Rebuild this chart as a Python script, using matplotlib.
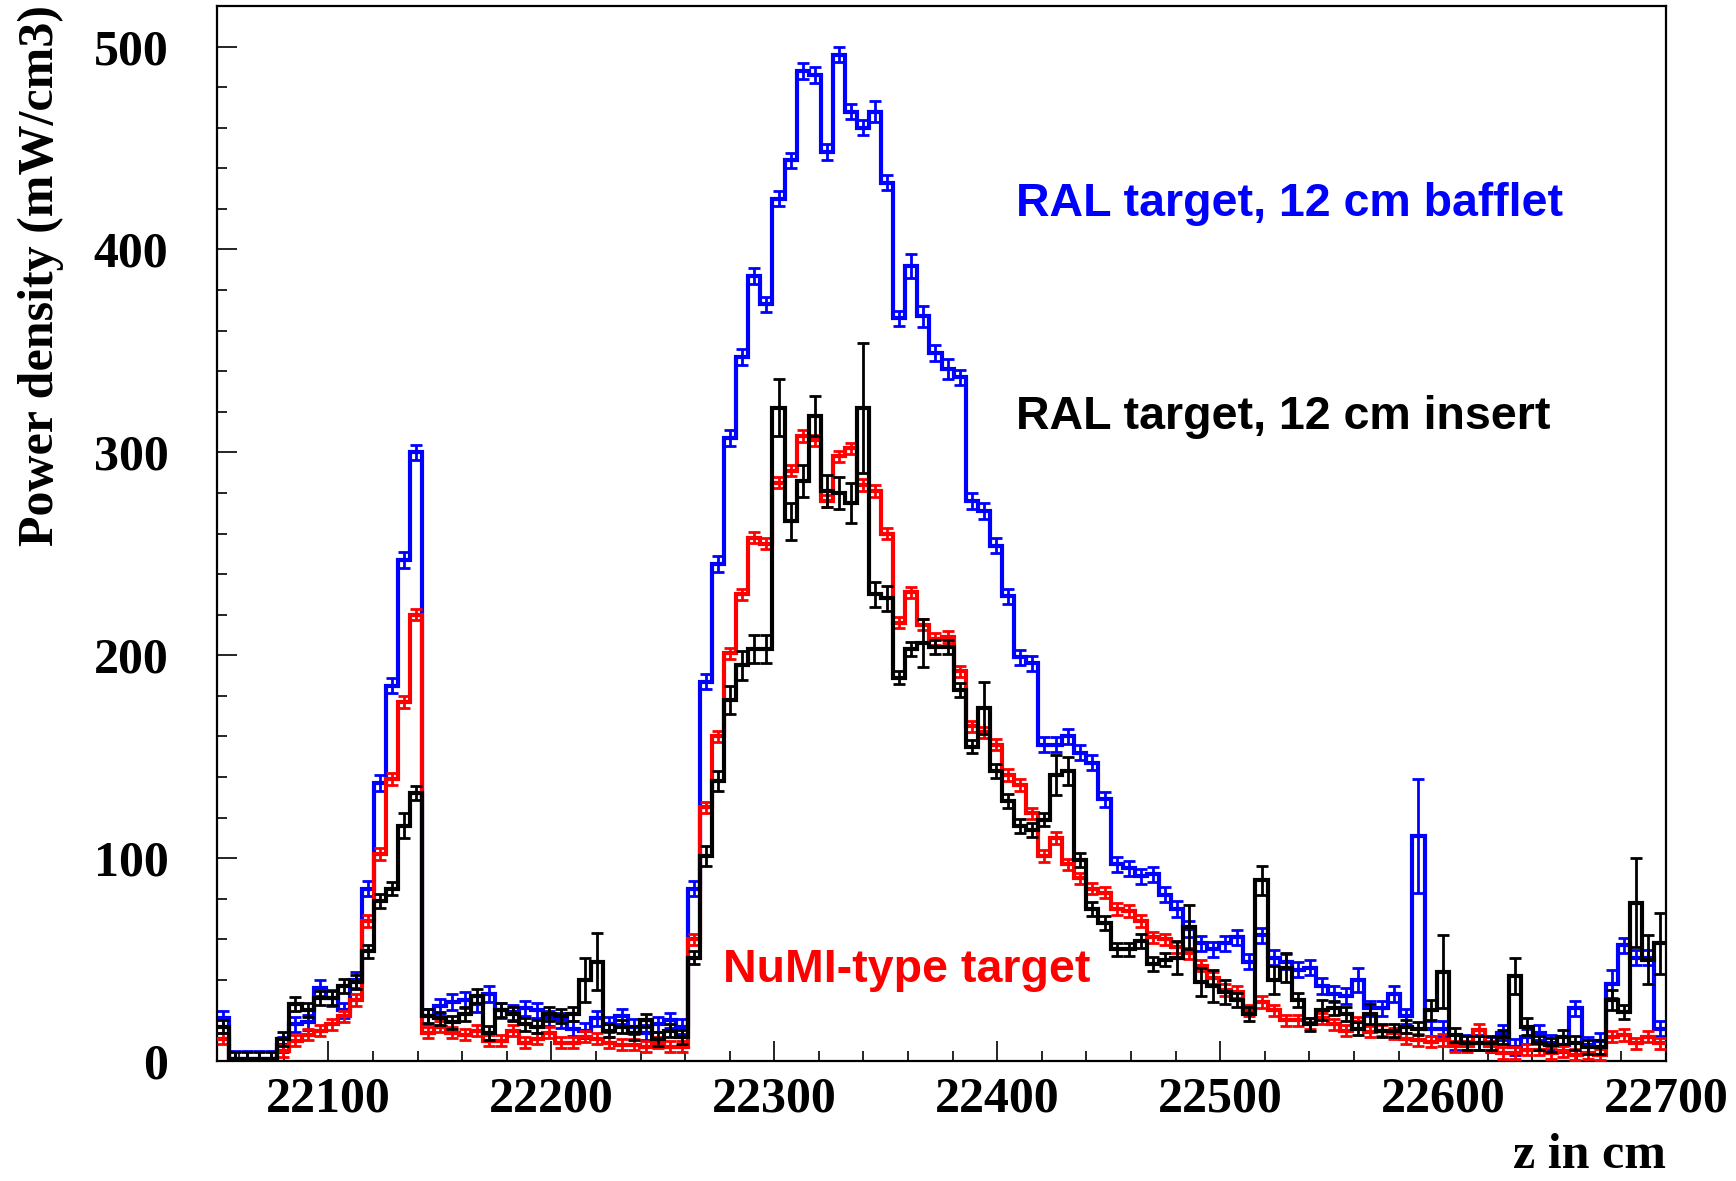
import numpy as np
import matplotlib
matplotlib.use("Agg")
import matplotlib.pyplot as plt
from matplotlib.ticker import MultipleLocator

# Histogram binning along the beam line (cm)
Z_MIN, Z_MAX, N_BINS = 22050.0, 22700.0, 120

# Power density per bin (mW/cm3): RAL target with 12 cm bafflet
bafflet = (
    [21, 1, 1, 1, 1]
    + [8, 18, 19, 36, 31, 25, 40]
    + [85, 137, 185, 247, 300]
    + [22, 27, 29, 30, 28, 33, 25, 24, 26, 25, 21, 20, 16]
    + [15, 21, 18, 22, 17, 14, 18, 20, 17]
    + [85, 187, 245, 307, 347, 387, 373, 425, 444, 488, 486, 448,
       496, 468, 460, 468, 433, 366, 392, 367, 349, 341, 337, 276]
    + [271, 254, 229, 199, 196]
    + [156, 156, 160, 152, 147, 129, 97, 95, 91, 92, 82, 75, 65, 58,
       55, 58, 61, 49, 62, 51, 49]
    + [45, 46, 37, 33, 32, 40, 26, 26, 33, 22, 111]
    + [16, 16, 9, 9, 9, 8, 14, 7, 12, 14, 9, 8, 26, 8, 10, 38, 57, 51, 51, 16]
)

# NuMI-type target
numi = (
    [11, 0, 0, 0, 0]
    + [5, 10, 13, 15, 18, 22, 30]
    + [69, 102, 139, 177, 220]
    + [14, 17, 14, 13, 15, 10, 10, 15, 9, 11, 14, 9, 9, 12, 11, 9, 8, 8,
       7, 9, 7, 7]
    + [60, 125, 160, 201, 230, 258, 255, 285, 291, 308, 306, 276,
       298, 302, 284, 281, 260, 216, 231, 215, 208, 209, 192, 165]
    + [162, 156, 141, 136, 122, 101, 110, 97, 90, 85, 83, 75, 74, 69,
       61, 60, 56, 53, 47, 41, 35, 34, 25, 29, 25, 20]
    + [20, 18.5, 21, 18, 15, 19, 14.5, 15, 13.6, 11, 10.4, 9.6, 10.4,
       7.2, 7.2, 15.3, 7.2, 4, 4, 5.6, 5.6, 4, 4.8, 3.2, 4, 3.2, 12,
       12.8, 8.7, 12, 8.7]
)

# RAL target with 12 cm insert
insert = (
    [17, 1, 1, 1, 1]
    + [11, 28, 25, 31, 31, 37, 39, 54, 79, 85, 116, 132]
    + [22, 21, 19, 23, 32, 14, 25, 23, 18, 17, 23, 22, 23]
    + [40, 49]
    + [15, 17, 14, 20, 11, 15, 12]
    + [51, 101, 138, 178, 195, 203, 203, 322, 266, 286, 318, 281,
       280, 275, 322, 230, 228, 189, 203, 206, 204, 204, 183, 155]
    + [174, 143, 128, 116, 114, 119, 141, 143, 99, 75, 68, 55, 55, 59,
       48, 50, 51, 66, 39, 37, 34, 30, 23, 89, 40, 46]
    + [30, 18, 25, 26, 23, 16, 23, 15, 15, 17, 16, 25, 44, 13, 9, 9, 9,
       12, 42, 17, 9, 8, 12, 9, 7, 7, 30, 24, 78, 50, 58]
)

# Statistical uncertainties: typical value per series, larger ones by bin
bafflet_err_typ, numi_err_typ, insert_err_typ = 3.8, 2.8, 3.4
bafflet_err_big = {54: 5, 57: 6, 58: 5, 60: 5, 94: 6, 99: 28, 115: 7}
numi_err_big = {}
insert_err_big = {15: 6, 40: 5, 41: 5, 42: 7, 43: 7, 44: 7, 45: 7,
                  30: 11, 31: 14, 46: 14, 47: 9, 48: 8, 49: 10, 50: 8,
                  51: 8, 52: 10, 53: 32, 54: 6, 55: 6, 58: 12, 63: 13,
                  69: 10, 70: 7, 79: 8, 80: 11, 81: 7, 82: 8, 83: 6,
                  86: 7, 87: 7, 88: 7, 91: 5, 95: 5, 100: 5, 101: 18,
                  107: 9, 108: 4, 115: 5, 117: 22, 118: 12, 119: 15}

XTICK_LABELS = ["22100", "22200", "22300", "22400", "22500", "22600", "22700"]
YTICK_LABELS = ["0", "100", "200", "300", "400", "500"]

SERIF = ["Liberation Serif", "DejaVu Serif"]
SANS = ["Liberation Sans", "DejaVu Sans"]

edges = np.linspace(Z_MIN, Z_MAX, N_BINS + 1)
centers = 0.5 * (edges[:-1] + edges[1:])


def errors(typ, big):
    e = np.full(N_BINS, typ)
    for k, v in big.items():
        e[k] = v
    return e


fig = plt.figure(figsize=(17.36, 11.81), dpi=100)
ax = fig.add_axes([0.125, 0.1016, 0.8347, 0.8933])

series = [
    (bafflet, errors(bafflet_err_typ, bafflet_err_big), "#0000ff", 2),
    (numi, errors(numi_err_typ, numi_err_big), "#ff0000", 3),
    (insert, errors(insert_err_typ, insert_err_big), "#000000", 4),
]
for vals, errs, color, z in series:
    vals = np.asarray(vals, dtype=float)
    assert len(vals) == N_BINS
    ax.stairs(vals, edges, baseline=None, color=color, lw=3.0, zorder=z)
    m = vals > 0
    ax.errorbar(centers[m], vals[m], yerr=errs[m],
                fmt="none", ecolor=color, elinewidth=2.0, capsize=4.0,
                capthick=2.0, zorder=z)

ax.set_xlim(Z_MIN, Z_MAX)
ax.set_ylim(0, 520)

ax.xaxis.set_major_locator(MultipleLocator(100))
ax.xaxis.set_minor_locator(MultipleLocator(20))
ax.yaxis.set_major_locator(MultipleLocator(100))
ax.yaxis.set_minor_locator(MultipleLocator(20))
ax.set_xticks([int(s) for s in XTICK_LABELS])
ax.set_xticklabels(XTICK_LABELS)
ax.set_yticks([int(s) for s in YTICK_LABELS])
ax.set_yticklabels(YTICK_LABELS)

ax.tick_params(which="both", direction="in", top=False, right=False, width=1.2)
ax.tick_params(which="major", length=14.4)
ax.tick_params(which="minor", length=7.2)
ax.tick_params(axis="x", which="major", pad=11)
ax.tick_params(axis="y", which="major", pad=35)
for lab in ax.get_xticklabels() + ax.get_yticklabels():
    lab.set_family(SERIF)
    lab.set_fontweight("bold")
    lab.set_fontsize(36)
for sp in ax.spines.values():
    sp.set_linewidth(1.6)

fig.text(0.0236, 0.9958, "Power density (mW/cm3)", rotation=90,
         ha="center", va="top", family=SERIF, fontweight="bold", fontsize=36)
fig.text(0.9597, 0.0110, "z in cm", ha="right", va="baseline",
         family=SERIF, fontweight="bold", fontsize=36)

ax.text(22408.6, 416.5, "RAL target, 12 cm bafflet", color="#0000ff",
        family=SANS, fontweight="bold", fontsize=33.5, va="baseline", ha="left")
ax.text(22408.6, 311.7, "RAL target, 12 cm insert", color="#000000",
        family=SANS, fontweight="bold", fontsize=33.5, va="baseline", ha="left")
ax.text(22277.0, 38.9, "NuMI-type target", color="#ff0000",
        family=SANS, fontweight="bold", fontsize=33.5, va="baseline", ha="left")

fig.savefig("out.png", dpi=100, facecolor="white")
